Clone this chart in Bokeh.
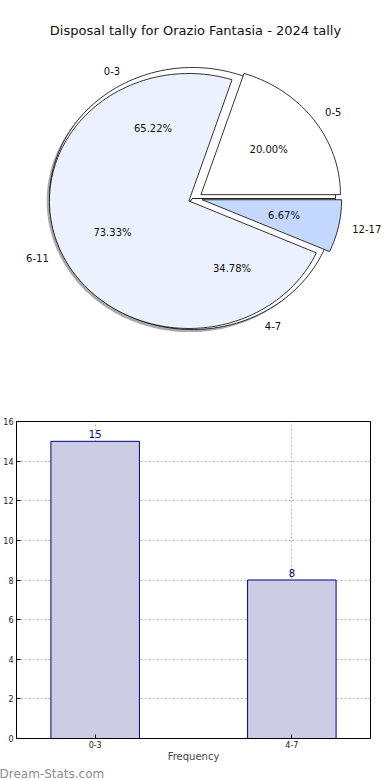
import math
from bokeh.plotting import figure
from bokeh.models import Range1d, FixedTicker, Title
from bokeh.core.properties import value
from bokeh.embed import file_html
from bokeh.resources import INLINE

# ---------------- data ----------------
title_text = "Disposal tally for Orazio Fantasia - 2024 tally"
outer_labels = ["0-3", "4-7"]
outer_values = [15, 8]
inner_labels = ["0-5", "6-11", "12-17"]
inner_values = [3, 11, 1]
bar_categories = ["0-3", "4-7"]
bar_values = [15, 8]
y_ticks = [0, 2, 4, 6, 8, 10, 12, 14, 16]
x_label = "Frequency"
watermark = "Dream-Stats.com"

FONT = "DejaVu Sans"
PIE_H = 392


def wedges(values, cx, cy, rx, ry, explode, start=0.0, n=180):
    total = float(sum(values))
    out = []
    a0 = start
    for v in values:
        a1 = a0 + 360.0 * v / total
        mid = math.radians((a0 + a1) / 2.0)
        ox = cx + explode * rx * math.cos(mid)
        oy = cy - explode * ry * math.sin(mid)
        steps = max(4, int(n * (a1 - a0) / 360.0) + 4)
        xs, ys = [ox], [oy]
        for i in range(steps + 1):
            t = math.radians(a0 + (a1 - a0) * i / steps)
            xs.append(ox + rx * math.cos(t))
            ys.append(oy - ry * math.sin(t))
        out.append(dict(xs=xs, ys=ys, mid=mid, ox=ox, oy=oy, frac=v / total))
        a0 = a1
    return out


# ---------------- pie figure ----------------
p = figure(width=382, height=PIE_H, x_range=Range1d(0, 382), y_range=Range1d(PIE_H, 0),
           output_backend="svg", toolbar_location=None, min_border=0,
           x_axis_location=None, y_axis_location=None, outline_line_color=None)
p.grid.visible = False

p.text(x=[195], y=[30], text=[title_text], text_align="center", text_baseline="middle",
       text_font=value(FONT), text_font_size="13px", text_color="#111111")

# under pie (0-3 / 4-7) with shadow
U_CX, U_CY, U_RX, U_RY = 192.0, 198.0, 143.0, 131.0
under = wedges(outer_values, U_CX, U_CY, U_RX, U_RY, 0.0)
p.patches(xs=[[x - 2.8 for x in w["xs"]] for w in under],
          ys=[[y + 2.6 for y in w["ys"]] for w in under],
          fill_color="#404040", fill_alpha=0.45, line_color=None)
p.patches(xs=[w["xs"] for w in under], ys=[w["ys"] for w in under],
          fill_color="white", line_color="black", line_width=0.8)

# top pie (0-5 / 6-11 / 12-17), exploded
T_CX, T_CY, T_RX, T_RY = 194.8, 197.9, 139.5, 127.5
top = wedges(inner_values, T_CX, T_CY, T_RX, T_RY, 0.05)
inner_colors = ["#FFFFFF", "#EBF1FE", "#C4D8FE"]
p.patches(xs=[w["xs"] for w in top], ys=[w["ys"] for w in top],
          fill_color=inner_colors, line_color="black", line_width=0.8)


def add_labels(ws, labels, rx, ry):
    for w, lab in zip(ws, labels):
        c, s = math.cos(w["mid"]), math.sin(w["mid"])
        lx = w["ox"] + 1.1 * rx * c
        ly = w["oy"] - 1.1 * ry * s
        p.text(x=[lx], y=[ly], text=[lab], text_align="left" if c > 0 else "right",
               text_baseline="middle", text_font=value(FONT), text_font_size="10px",
               text_color="#111111")
        px = w["ox"] + 0.6 * rx * c
        py = w["oy"] - 0.6 * ry * s
        p.text(x=[px], y=[py], text=["%.2f%%" % (100 * w["frac"])], text_align="center",
               text_baseline="middle", text_font=value(FONT), text_font_size="10px",
               text_color="#111111")


add_labels(under, outer_labels, U_RX, U_RY)
add_labels(top, inner_labels, T_RX, T_RY)

# ---------------- bar figure ----------------
xs = list(range(len(bar_categories)))
p2 = figure(width=382, height=388, x_range=Range1d(-0.4, 1.4), y_range=Range1d(0, 16),
            output_backend="svg", toolbar_location=None,
            min_border_top=29, min_border_right=12, min_border_left=11, min_border_bottom=20)
p2.vbar(x=xs, top=bar_values, width=0.45, fill_color="#CCCCE5", line_color="#000080",
        line_width=1)
p2.text(x=xs, y=bar_values, text=[str(v) for v in bar_values], text_align="center",
        text_baseline="bottom", y_offset=-3, text_font=value(FONT), text_font_size="10px",
        text_color="#000080")

p2.xaxis.ticker = FixedTicker(ticks=xs)
p2.xaxis.major_label_overrides = {i: c for i, c in enumerate(bar_categories)}
p2.yaxis.ticker = FixedTicker(ticks=y_ticks)
p2.xaxis.axis_label = x_label
p2.xaxis.axis_label_text_font_style = "normal"
p2.xaxis.axis_label_text_font_size = "10px"
p2.xaxis.axis_label_text_font = FONT
p2.xaxis.axis_label_standoff = 0
for ax in (p2.xaxis, p2.yaxis):
    ax.major_label_text_font_size = "8px"
    ax.major_label_text_font = FONT
    ax.major_label_text_color = "#222222"
    ax.major_label_standoff = 3
    ax.major_tick_in = 4
    ax.major_tick_out = 0
    ax.minor_tick_line_color = None
    ax.axis_line_color = "black"
    ax.major_tick_line_color = "black"
p2.xaxis.major_label_standoff = 2
p2.outline_line_color = "black"
p2.outline_line_alpha = 1
p2.grid.grid_line_color = "#b4b4b4"
p2.grid.grid_line_dash = "2 2"
p2.grid.grid_line_width = 1

p2.add_layout(Title(text=watermark, align="left", text_color="#8c8c8c", text_font_size="12px",
                    text_font=FONT, text_font_style="normal", offset=-17, standoff=0), "below")

open("out.html", "w").write(file_html([p, p2], INLINE))
